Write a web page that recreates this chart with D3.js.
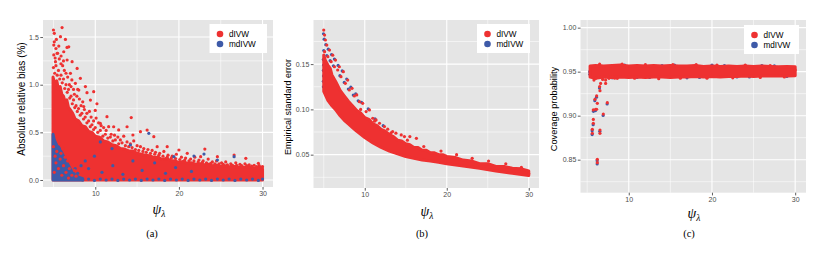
<!DOCTYPE html>
<html><head><meta charset="utf-8">
<script src="https://cdn.jsdelivr.net/npm/d3@7"></script>
<style>body{margin:0;background:#fff}svg{display:block}</style>
</head><body>
<svg id="chart" width="830" height="257"></svg>
<script>
// ---------- data ----------
const seriesNames = ["dIVW", "mdIVW"];
const xMajor = [10, 20, 30];
const xMinor = [5, 15, 25];
const panelLabels = ["(a)", "(b)", "(c)"];
const yTitles = ["Absolute relative bias (%)", "Empirical standard error", "Coverage probability"];

const aYMajor = [0, 0.5, 1.0, 1.5], aYMinor = [0.25, 0.75, 1.25];
const aYLabels = ["0.0", "0.5", "1.0", "1.5"];
const bYMajor = [0.05, 0.10, 0.15], bYMinor = [0.025, 0.075, 0.125, 0.175];
const bYLabels = ["0.05", "0.10", "0.15"];
const cYMajor = [0.85, 0.90, 0.95, 1.00], cYMinor = [0.825, 0.875, 0.925, 0.975];
const cYLabels = ["0.85", "0.90", "0.95", "1.00"];

// (a) upper edge of the dense dIVW cloud (cloud reaches down to 0)
const aRedTop = [[4.95,1.08],[5.2,1.0],[5.4,1.04],[5.6,0.95],[5.8,0.98],[6.0,0.9],[6.2,0.88],[6.4,0.82],[6.6,0.84],[6.8,0.76],[7.0,0.74],[7.3,0.70],[7.6,0.64],[8.0,0.62],[8.4,0.57],[8.8,0.56],[9.2,0.51],[9.6,0.50],[10.0,0.46],[10.5,0.45],[11.0,0.41],[11.5,0.40],[12.0,0.37],[12.5,0.36],[13.0,0.33],[13.5,0.325],[14.0,0.305],[14.5,0.305],[15.0,0.28],[15.5,0.27],[16.0,0.26],[16.5,0.255],[17.0,0.235],[17.5,0.24],[18.0,0.215],[18.5,0.225],[19.0,0.205],[19.5,0.2],[20.0,0.185],[20.5,0.195],[21.0,0.175],[21.5,0.18],[22.0,0.165],[22.5,0.17],[23.0,0.16],[23.5,0.165],[24.0,0.15],[24.5,0.155],[25.0,0.145],[25.5,0.15],[26.0,0.14],[26.5,0.145],[27.0,0.135],[27.5,0.14],[28.0,0.13],[28.5,0.135],[29.0,0.125],[29.5,0.13],[30.0,0.115]];
// (a) upper edge of the dense mdIVW cloud at small psi
const aBlueTop = [[4.95,0.48],[5.1,0.42],[5.3,0.38],[5.6,0.35],[5.9,0.30],[6.2,0.25],[6.5,0.20],[6.8,0.15],[7.1,0.10],[7.5,0.06],[8.0,0.03],[8.5,0.015]];
// (a) individual dIVW points
const aRedPts = [[5.0,1.574],[6.03,1.60],[5.1,1.539],[5.84,1.504],[6.43,1.475],[5.35,1.475],[5.04,1.416],[5.64,1.405],[6.62,1.391],[6.83,1.398],[6.23,1.346],[5.44,1.329],[5.04,1.312],[5.91,1.301],[7.23,1.242],[6.63,1.259],[5.24,1.242],[7.83,1.171],[7.03,1.119],[8.22,1.067],[7.62,1.014],[8.82,0.98],[9.01,0.916],[9.81,0.927],[8.03,0.944],[10.2,0.80],[10.0,0.73],[8.62,0.77],[9.42,0.839],[10.6,0.595],[11.4,0.664],[12.2,0.559],[14.3,0.655],[12.8,0.525],[13.8,0.559],[15.4,0.507],[16.2,0.524],[14.5,0.472],[17.0,0.455],[17.4,0.35],[18.6,0.35],[20.0,0.315],[21.0,0.28],[23.1,0.325],[22.6,0.245],[24.6,0.245],[26.6,0.262],[28.0,0.227],[29.5,0.175],
[5.1,1.45],[5.3,1.38],[5.5,1.33],[5.2,1.28],[5.7,1.27],[5.9,1.22],[6.1,1.2],[6.3,1.15],[6.5,1.12],[6.7,1.08],[6.2,1.25],[6.9,1.0],[7.1,0.98],[7.4,0.95],[7.2,1.05],[7.5,0.9],[7.8,0.88],[8.1,0.85],[7.9,0.95],[8.3,0.78],[8.5,0.82],[8.7,0.74],[9.0,0.7],[9.3,0.72],[9.5,0.66],[9.8,0.62],[10.1,0.65],[10.4,0.6],[10.7,0.57],[11.0,0.55],[11.3,0.52],[11.6,0.56],[11.9,0.48],[12.3,0.47],[12.7,0.45],[13.0,0.42],[13.4,0.46],[13.8,0.4],[14.2,0.38],[14.6,0.41],[15.0,0.36],[15.4,0.35],[15.8,0.33],[16.3,0.32],[16.8,0.31],[17.2,0.29],[17.7,0.28],[18.2,0.3],[18.7,0.26],[19.2,0.25],[19.7,0.27],[20.3,0.24],[20.8,0.23],[21.4,0.22],[21.9,0.24],[22.4,0.21],[22.9,0.2],[23.5,0.22],[24.0,0.19],[24.5,0.2],[25.1,0.18],[25.6,0.19],[26.2,0.17],[26.8,0.18],[27.3,0.165],[27.9,0.17],[28.4,0.16],[29.0,0.155],[29.6,0.15],[30.0,0.14],
[5.0,1.18],[5.15,1.12],[5.3,1.2],[5.45,1.1],[5.6,1.15],[5.75,1.06],[5.9,1.1],[6.05,1.02],[6.2,1.06],[6.35,0.96],[6.5,1.0],[6.65,0.92],[6.8,0.95],[6.95,0.86],[7.1,0.88],[7.25,0.8],[7.4,0.84],[7.55,0.76],[7.7,0.78],[7.85,0.72],[8.0,0.75],[8.2,0.68],[8.4,0.7],[8.6,0.64],[8.8,0.66],[9.0,0.6],[9.2,0.62],[9.4,0.56],[9.6,0.58],[9.8,0.53],[10.0,0.55],[10.3,0.5],[10.6,0.52],[10.9,0.46],[11.2,0.48],[11.5,0.44],[11.8,0.45],[12.1,0.41],[12.4,0.42],[12.8,0.38],[13.2,0.39],[13.6,0.36],[14.0,0.35],[14.4,0.34],[14.8,0.32],[15.2,0.31],[15.7,0.3],[16.1,0.29],[16.6,0.28],[17.1,0.27],[17.6,0.26],[18.1,0.25],[18.6,0.24],[19.1,0.23],[19.6,0.225],[20.1,0.215],[20.7,0.21],[21.2,0.2],[21.8,0.2],[22.3,0.19],[22.8,0.185],[23.3,0.18],[23.8,0.175],[24.3,0.17],[24.8,0.17],[25.3,0.165],[25.8,0.16],[26.4,0.155],[26.9,0.155],[27.5,0.15],[28.1,0.15],[28.7,0.145],[29.3,0.14],[29.8,0.135],
[5.4,0.3],[5.8,0.22],[6.2,0.15],[6.5,0.08],[5.6,0.12],[6.9,0.12],[7.2,0.05],[6.0,0.05],[5.3,0.18],[7.5,0.1],[6.7,0.2],[5.9,0.28],[7.7,0.04],[6.4,0.24],[5.1,0.08],[5.0,0.35],[6.8,0.02],[5.2,0.25],[5.7,0.38],[6.1,0.33]];
// (a) individual mdIVW points
const aBluePts = [[16.4,0.49],[14.2,0.367],[23.0,0.272],[19.4,0.245],[24.6,0.21],[26.6,0.245],[21.8,0.252],[10.6,0.40],[12.0,0.33],
[8.5,0.0],[9.2,0.01],[9.9,-0.005],[10.6,0.01],[11.3,0.0],[12.0,0.01],[12.7,-0.005],[13.4,0.01],[14.1,0.0],[14.8,0.01],[15.5,-0.005],[16.2,0.01],[16.9,0.0],[17.6,0.01],[18.3,-0.005],[19.0,0.01],[19.7,0.0],[20.4,0.01],[21.1,-0.005],[21.8,0.01],[22.5,0.0],[23.2,0.01],[23.9,-0.005],[24.6,0.01],[25.3,0.0],[26.0,0.01],[26.7,-0.005],[27.4,0.01],[28.1,0.0],[28.8,0.01],[29.5,-0.005],[30.0,0.01],
[9.2,0.12],[10.8,0.08],[12.1,0.15],[13.3,0.06],[14.5,0.2],[15.6,0.1],[17.1,0.18],[18.4,0.07],[19.6,0.13],[21.5,0.09],[8.8,0.2],[9.9,0.25],[7.6,0.12],[7.9,0.07],[8.3,0.15]];

// (b) lower and upper edges of the dense band
const bLower = [[5.0,0.120],[5.5,0.110],[6.0,0.104],[6.5,0.099],[7.0,0.093],[7.5,0.088],[8.0,0.084],[8.5,0.080],[9.0,0.076],[10.0,0.069],[11.0,0.063],[12.0,0.058],[13.0,0.054],[14.0,0.051],[15.0,0.048],[16.0,0.046],[17.0,0.044],[18.0,0.043],[19.0,0.0415],[20.0,0.040],[22.0,0.0375],[24.0,0.035],[26.0,0.032],[28.0,0.0295],[30.0,0.027]];
const bUpper = [[5.0,0.160],[5.2,0.154],[5.5,0.149],[5.8,0.145],[6.0,0.138],[6.5,0.130],[7.0,0.121],[7.5,0.115],[8.0,0.109],[8.5,0.104],[9.0,0.099],[9.5,0.096],[10.0,0.091],[10.5,0.089],[11.0,0.084],[11.5,0.082],[12.0,0.078],[12.5,0.076],[13.0,0.072],[13.5,0.070],[14.0,0.066],[14.5,0.065],[15.0,0.062],[15.5,0.061],[16.0,0.058],[16.5,0.058],[17.0,0.055],[17.5,0.055],[18.0,0.052],[18.5,0.052],[19.0,0.050],[19.5,0.050],[20.0,0.048],[21.0,0.047],[22.0,0.044],[23.0,0.043],[24.0,0.040],[25.0,0.040],[26.0,0.037],[27.0,0.037],[28.0,0.035],[29.0,0.0345],[30.0,0.032]];
const bRedPts = [[5.0,0.1876],[5.1,0.1821],[5.2,0.1766],[5.37,0.171],[5.7,0.1655],[6.1,0.1599],[6.43,0.1545],[6.9,0.1471],[7.39,0.1416],[7.92,0.1324],[8.45,0.1233],[9.02,0.116],[9.75,0.1067],[10.57,0.0994],[11.38,0.0884],[12.4,0.081],[13.4,0.0755],[14.45,0.0718],[15.5,0.07],[16.3,0.0681],
[5.1,0.1637],[5.5,0.1582],[5.9,0.1527],[6.3,0.1471],[6.7,0.1435],[7.1,0.1361],[7.63,0.1288],[8.12,0.1214],[8.73,0.1148],[9.35,0.1085],[10.16,0.0976],[10.98,0.0902],[11.8,0.0847],[12.8,0.0781],[13.8,0.0737],[14.84,0.07],
[9.5,0.1],[11.2,0.087],[13.2,0.074],[15.2,0.066],[17.2,0.059],[19.3,0.054],[21.2,0.05],[23.1,0.046],[25.1,0.043],[27.2,0.04],[29.1,0.036],[30.0,0.029]];
const bBluePts = [[4.97,0.1835],[5.05,0.1775],[5.25,0.1715],[5.55,0.1665],[5.95,0.1605],[6.3,0.1555],[6.75,0.1485],[7.25,0.1425],[7.8,0.1335],[8.3,0.1245],[8.9,0.1172],[9.6,0.1078],[10.42,0.1005],[11.25,0.0895],[12.25,0.082],
[5.0,0.1650],[5.38,0.1595],[5.78,0.1538],[6.18,0.1482],[6.97,0.1372],[7.5,0.1298],[8.0,0.1225],[8.6,0.1158],[9.2,0.1095],
[4.95,0.125],[4.95,0.131],[4.97,0.137],[4.95,0.143],[4.97,0.149],[4.95,0.155]];

// (c) edges of the dense band and individual points
const cTop = [[5.35,0.9565],[6,0.957],[7,0.9565],[8,0.957],[9,0.9575],[10,0.9565],[11,0.957],[12,0.9565],[13,0.957],[14,0.9565],[15,0.957],[16,0.9565],[17,0.9565],[18,0.957],[19,0.956],[20,0.9565],[21,0.956],[22,0.9565],[23,0.956],[24,0.9565],[25,0.956],[26,0.9565],[27,0.956],[28,0.9555],[29,0.956],[30,0.9555]];
const cBottom = [[5.35,0.944],[6,0.9425],[7,0.944],[8,0.9435],[9,0.944],[10,0.9435],[11,0.944],[12,0.9435],[13,0.944],[14,0.944],[15,0.9435],[16,0.944],[17,0.944],[18,0.9445],[19,0.944],[20,0.9445],[21,0.944],[22,0.9445],[23,0.9445],[24,0.945],[25,0.9445],[26,0.945],[27,0.945],[28,0.9455],[29,0.945],[30,0.9455]];
const cRedPts = [[5.62,0.880],[5.62,0.8845],[5.74,0.8913],[5.74,0.8958],[5.74,0.9065],[6.02,0.9073],[5.94,0.9186],[6.14,0.9224],[6.22,0.914],[6.14,0.9073],[6.22,0.8504],[6.22,0.8466],[6.5,0.9329],[6.54,0.9284],[6.62,0.9367],[6.54,0.8837],[6.54,0.880],[6.86,0.9412],[6.94,0.9018],[7.22,0.9405],[7.22,0.9367],[7.42,0.9148],[5.82,0.9405],[6.02,0.9424],[7.62,0.9424],[8.62,0.9424],
[6.5,0.9585],[9.2,0.9585],[12,0.958],[15.3,0.958],[18.1,0.958],[20.6,0.9575],[24,0.9575],[27,0.957],[8.3,0.9425],[10.7,0.9425],[13.6,0.942],[16.2,0.9425],[19.4,0.9425],[22.5,0.943],[25.8,0.9435],[28.7,0.944],[29.9,0.947],[30,0.952]];
const cBluePts = [[5.6,0.8785],[5.6,0.883],[5.72,0.8898],[5.76,0.905],[6.0,0.9058],[5.92,0.917],[6.2,0.8489],[6.2,0.8451],[6.48,0.9314],[6.52,0.8822],[6.92,0.9003],[7.4,0.9133],[6.12,0.921],
[8,0.943],[11,0.9435],[14,0.957],[17,0.943],[20,0.9575],[23,0.944],[26,0.957],[29,0.9445],[9.5,0.9575],[12.5,0.9435],[15.5,0.9575],[18.5,0.9435],[21.5,0.957],[24.5,0.944],[27.5,0.9565],[5.3,0.95],[5.32,0.947]];

// ---------- drawing ----------
const RED = "#ee3131", BLUE = "#3e5aa8";
const svg = d3.select("#chart");
const SANS = "'Liberation Sans', Arial, sans-serif";
const SERIF = "'Liberation Serif', 'DejaVu Serif', serif";
const R = 1.6;

function panel(o) {
  const g = svg.append("g");
  const x = d3.scaleLinear().domain(o.xd).range([o.l, o.r]);
  const y = d3.scaleLinear().domain(o.yd).range([o.b, o.t]);
  const cid = "clip" + o.id;
  svg.append("clipPath").attr("id", cid).append("rect")
    .attr("x", o.l).attr("y", o.t).attr("width", o.r - o.l).attr("height", o.b - o.t);
  g.append("rect").attr("x", o.l).attr("y", o.t).attr("width", o.r - o.l).attr("height", o.b - o.t).attr("fill", "#e5e5e5");
  const grid = g.append("g").attr("stroke", "#fff");
  grid.selectAll(".ym").data(o.yMinor).join("line").attr("x1", o.l).attr("x2", o.r).attr("y1", d => y(d)).attr("y2", d => y(d)).attr("stroke-width", 0.55);
  grid.selectAll(".xm").data(xMinor).join("line").attr("y1", o.t).attr("y2", o.b).attr("x1", d => x(d)).attr("x2", d => x(d)).attr("stroke-width", 0.55);
  grid.selectAll(".yM").data(o.yMajor).join("line").attr("x1", o.l).attr("x2", o.r).attr("y1", d => y(d)).attr("y2", d => y(d)).attr("stroke-width", 1.1);
  grid.selectAll(".xM").data(xMajor).join("line").attr("y1", o.t).attr("y2", o.b).attr("x1", d => x(d)).attr("x2", d => x(d)).attr("stroke-width", 1.1);
  const plot = g.append("g").attr("clip-path", `url(#${cid})`);
  o.draw(plot, x, y);

  // axes
  const ax = g.append("g").attr("transform", `translate(0,${o.b})`)
    .call(d3.axisBottom(x).tickValues(xMajor).tickSize(2.7).tickPadding(1.5).tickFormat(d3.format("d")));
  const ay = g.append("g").attr("transform", `translate(${o.l},0)`)
    .call(d3.axisLeft(y).tickValues(o.yMajor).tickSize(2.7).tickPadding(1.5).tickFormat((d, i) => o.yLabels[i]));
  [ax, ay].forEach(a => {
    a.select(".domain").remove();
    a.selectAll(".tick line").attr("stroke", "#333").attr("stroke-width", 0.8);
    a.selectAll(".tick text").attr("fill", "#4d4d4d").style("font-family", SANS).style("font-size", o.tickFs + "px");
  });

  // y title
  g.append("text").attr("transform", `translate(${o.ytx},${o.yty}) rotate(-90)`)
    .attr("text-anchor", "middle").attr("dominant-baseline", "central")
    .style("font-family", SANS).style("font-size", o.ytFs + "px").attr("fill", "#000").text(o.yTitle);
  // x title psi_lambda
  const xt = g.append("text").attr("x", o.xtx).attr("y", o.xty).attr("text-anchor", "middle")
    .style("font-family", SERIF).attr("fill", "#000");
  xt.append("tspan").style("font-style", "italic").style("font-size", "14px").text("ψ");
  xt.append("tspan").style("font-style", "italic").style("font-size", "9.5px").attr("dy", 2.5).text("λ");
  // panel caption
  g.append("text").attr("x", o.capx).attr("y", 237).attr("text-anchor", "middle")
    .style("font-family", SERIF).style("font-size", "10.5px").attr("fill", "#000").text(o.caption);

  // legend
  const lg = g.append("g");
  lg.append("rect").attr("x", o.lgx).attr("y", o.lgy).attr("width", o.lgw).attr("height", 29).attr("fill", "#fff");
  const items = lg.selectAll("g.it").data(seriesNames).join("g")
    .attr("transform", (d, i) => `translate(${o.lgx + 10.5},${o.lgy + 10 + i * 10})`);
  items.append("circle").attr("r", 3.3).attr("fill", (d, i) => i === 0 ? RED : BLUE);
  items.append("text").attr("x", 9).attr("dy", "0.35em").style("font-family", SANS).style("font-size", "8.2px").attr("fill", "#000").text(d => d);
}

function dots(gp, x, y, data, color) {
  gp.append("g").selectAll("circle").data(data).join("circle")
    .attr("cx", d => x(d[0])).attr("cy", d => y(d[1])).attr("r", R).attr("fill", color);
}
function band(gp, x, y, upper, lower, color) {
  const pts = upper.concat(lower.slice().reverse());
  gp.append("path").attr("d", d3.line().x(d => x(d[0])).y(d => y(d[1]))(pts) + "Z")
    .attr("fill", color).attr("stroke", color).attr("stroke-width", 3).attr("stroke-linejoin", "round");
}

// (a)
panel({
  id: "a", l: 43, r: 273, t: 20, b: 187, xd: [3.75, 31.25], yd: [-0.0735, 1.679],
  yMajor: aYMajor, yMinor: aYMinor, yLabels: aYLabels, tickFs: 7,
  yTitle: yTitles[0], ytx: 21, yty: 99, ytFs: 10,
  xtx: 159, xty: 214, capx: 152, caption: panelLabels[0],
  lgx: 209.5, lgy: 24, lgw: 57.5,
  draw: (gp, x, y) => {
    const base = aRedTop.map(d => [d[0], 0]);
    band(gp, x, y, aRedTop, base, RED);
    const onBlue = d => d[0] < 7.8 && d[1] < 0.45;
    dots(gp, x, y, aRedPts.filter(d => !onBlue(d)), RED);
    band(gp, x, y, aBlueTop, aBlueTop.map(d => [d[0], 0]), BLUE);
    dots(gp, x, y, aBluePts, BLUE);
    dots(gp, x, y, aRedPts.filter(onBlue), RED);
  }
});

// (b)
panel({
  id: "b", l: 313.5, r: 539, t: 20, b: 188, xd: [3.75, 31.25], yd: [0.0132, 0.1987],
  yMajor: bYMajor, yMinor: bYMinor, yLabels: bYLabels, tickFs: 7,
  yTitle: yTitles[1], ytx: 288, yty: 107, ytFs: 9,
  xtx: 427, xty: 216, capx: 422, caption: panelLabels[1],
  lgx: 477, lgy: 24, lgw: 53,
  draw: (gp, x, y) => {
    dots(gp, x, y, bBluePts, BLUE);
    band(gp, x, y, bUpper, bLower, RED);
    dots(gp, x, y, bRedPts, RED);
  }
});

// (c)
panel({
  id: "c", l: 580.5, r: 806, t: 20, b: 192.7, xd: [4.2, 31.3], yd: [0.8125, 1.0087],
  yMajor: cYMajor, yMinor: cYMinor, yLabels: cYLabels, tickFs: 7,
  yTitle: yTitles[2], ytx: 554, yty: 109, ytFs: 9.2,
  xtx: 694, xty: 218, capx: 689, caption: panelLabels[2],
  lgx: 744, lgy: 25, lgw: 55,
  draw: (gp, x, y) => {
    dots(gp, x, y, cBluePts, BLUE);
    band(gp, x, y, cTop, cBottom, RED);
    dots(gp, x, y, cRedPts, RED);
  }
});
</script>
</body></html>
